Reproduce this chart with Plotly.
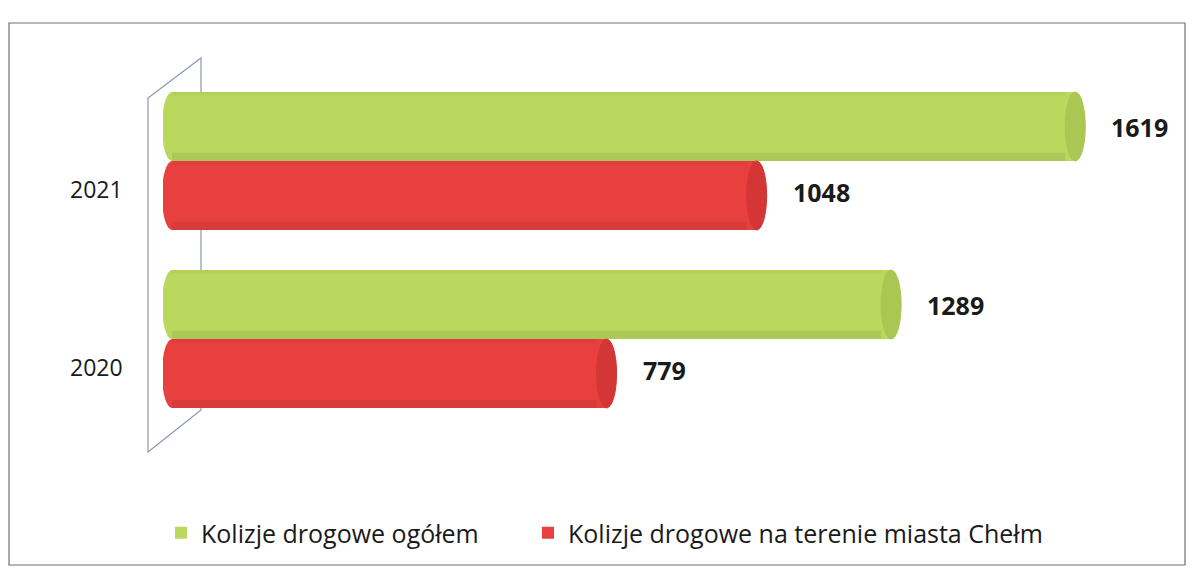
import plotly.graph_objects as go

years = ["2021", "2020"]
total = [1619, 1289]
city = [1048, 779]
names = ["Kolizje drogowe ogółem", "Kolizje drogowe na terenie miasta Chełm"]
colors = ["#bad85e", "#e8403f"]
cap_colors = ["#a9c752", "#d43636"]

W, H = 1192, 569
ML, MR, MT, MB = 163, 28, 72, 141
XMAX = 1778
XMIN = -16

pw = W - ML - MR
ph = H - MT - MB


def px(xp):
    return (xp - ML) / pw


def py(yp):
    return 1 - (yp - MT) / ph


fig = go.Figure()
for vals, name, col, lg in zip([total, city], names, colors, ["legend", "legend2"]):
    fig.add_trace(go.Bar(
        y=years, x=vals, name=name, orientation="h",
        marker=dict(color=col, line=dict(width=0)),
        cliponaxis=False, legend=lg,
    ))

bargap = 0.225
bw = (1 - bargap) / 2
px_per_unit = pw / (XMAX - XMIN)
cap_w = 20 / px_per_unit

shapes = []
annotations = []
for ti, (vals, col, ccol) in enumerate(zip([total, city], colors, cap_colors)):
    for ci, v in enumerate(vals):
        y0 = ci - (1 - bargap) / 2 + ti * bw
        y1 = y0 + bw
        shapes.append(dict(type="circle", xref="x", yref="y", x0=-cap_w / 2, x1=cap_w / 2,
                           y0=y0, y1=y1, fillcolor=col, line=dict(width=0), layer="below"))
        shapes.append(dict(type="circle", xref="x", yref="y", x0=v - cap_w / 2, x1=v + cap_w / 2,
                           y0=y0, y1=y1, fillcolor=ccol, line=dict(width=1, color=ccol), layer="above"))
        shapes.append(dict(type="rect", xref="x", yref="y", x0=0, x1=v - cap_w / 2,
                           y0=y1 - bw * 0.12, y1=y1, fillcolor="rgba(0,0,0,0.07)",
                           line=dict(width=0), layer="above"))
        shapes.append(dict(type="rect", xref="x", yref="y", x0=0, x1=v - cap_w / 2,
                           y0=y0, y1=y0 + bw * 0.05, fillcolor="rgba(0,0,0,0.04)",
                           line=dict(width=0), layer="above"))
        annotations.append(dict(x=v, y=(y0 + y1) / 2, xref="x", yref="y", text=f"<b>{v}</b>",
                                showarrow=False, xanchor="left", xshift=34,
                                yshift=(3 if ti == 1 else 0),
                                font=dict(family="Open Sans", size=25, color="#1a1a1a")))

for ci, yr in enumerate(years):
    annotations.append(dict(x=px(125), y=ci, xref="paper", yref="y", text=yr, showarrow=False,
                            xanchor="right", yshift=-28,
                            font=dict(family="Open Sans", size=23, color="#1a1a1a")))

wall = dict(color="#8c95b5", width=1.2)
shapes.append(dict(type="path", xref="paper", yref="paper",
                   path=f"M {px(148)},{py(452)} L {px(148)},{py(98)} L {px(201)},{py(58)} L {px(201)},{py(410)} Z",
                   line=wall, layer="below"))
shapes.append(dict(type="rect", xref="paper", yref="paper", x0=px(9), x1=px(1185),
                   y0=py(565), y1=py(23), line=dict(color="#6e6e6e", width=1.2), layer="below"))

leg_common = dict(orientation="h", xanchor="left", y=py(533), yanchor="middle",
                  font=dict(size=25, color="#1a1a1a"), itemwidth=30,
                  bgcolor="rgba(0,0,0,0)")

fig.update_layout(
    width=W, height=H,
    margin=dict(l=ML, r=MR, t=MT, b=MB),
    paper_bgcolor="white", plot_bgcolor="white",
    barmode="group", bargap=bargap, bargroupgap=0,
    font=dict(family="Open Sans", color="#1a1a1a"),
    xaxis=dict(range=[XMIN, XMAX], visible=False),
    yaxis=dict(autorange="reversed", showline=False, showgrid=False, ticks="",
               showticklabels=False),
    legend=dict(x=px(161), **leg_common),
    legend2=dict(x=px(528), **leg_common),
    shapes=shapes, annotations=annotations,
    showlegend=True,
)

fig.write_html("out.html", config={"displayModeBar": False},
               post_script="document.body.style.margin='0';")
